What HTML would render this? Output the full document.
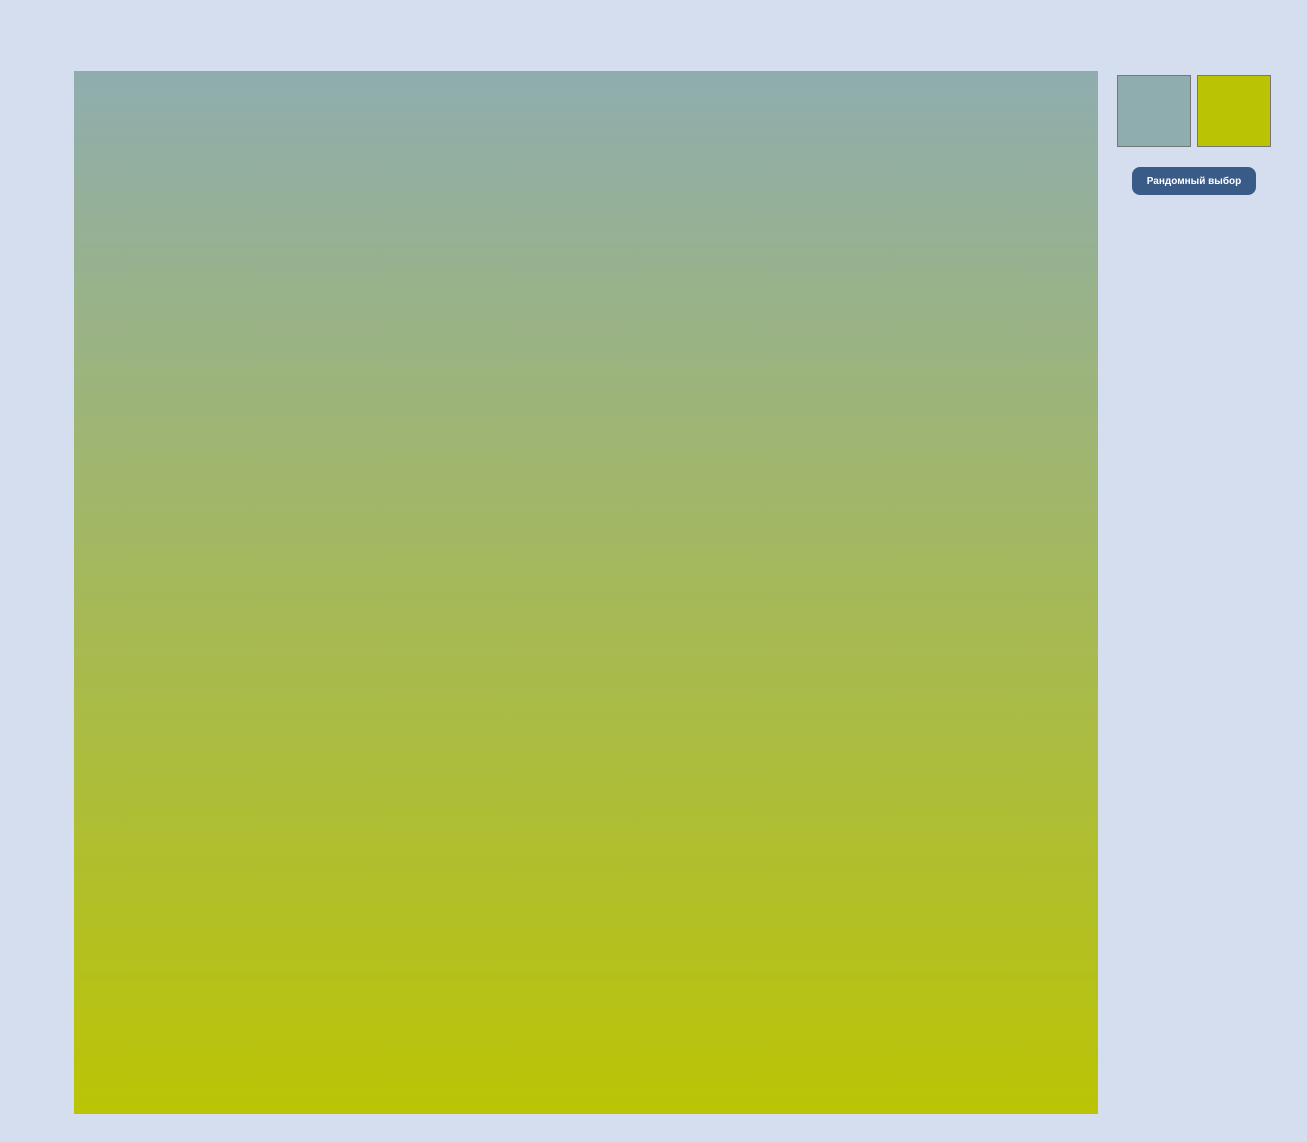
<!DOCTYPE html>
<html><head><meta charset="utf-8"><style>
html,body{margin:0;padding:0;width:1307px;height:1142px;background:#d5deee;overflow:hidden;font-family:"Liberation Sans",sans-serif;}
#grad{position:absolute;left:74px;top:71px;width:1024px;height:1043px;background:linear-gradient(to bottom,#8fadaf,#bbc404);}
.sw{position:absolute;top:75px;width:72px;height:70px;border:1px solid #777;}
#btn{position:absolute;left:1132px;top:167px;width:124px;height:28px;background:#3a5a88;color:#fff;border-radius:8px;font-size:10px;font-weight:bold;text-align:center;line-height:29px;}
</style></head><body>
<div id="grad"></div>
<div class="sw" style="left:1117px;background:#8fadaf"></div>
<div class="sw" style="left:1197px;background:#bbc404"></div>
<div id="btn">Рандомный выбор</div>
</body></html>
